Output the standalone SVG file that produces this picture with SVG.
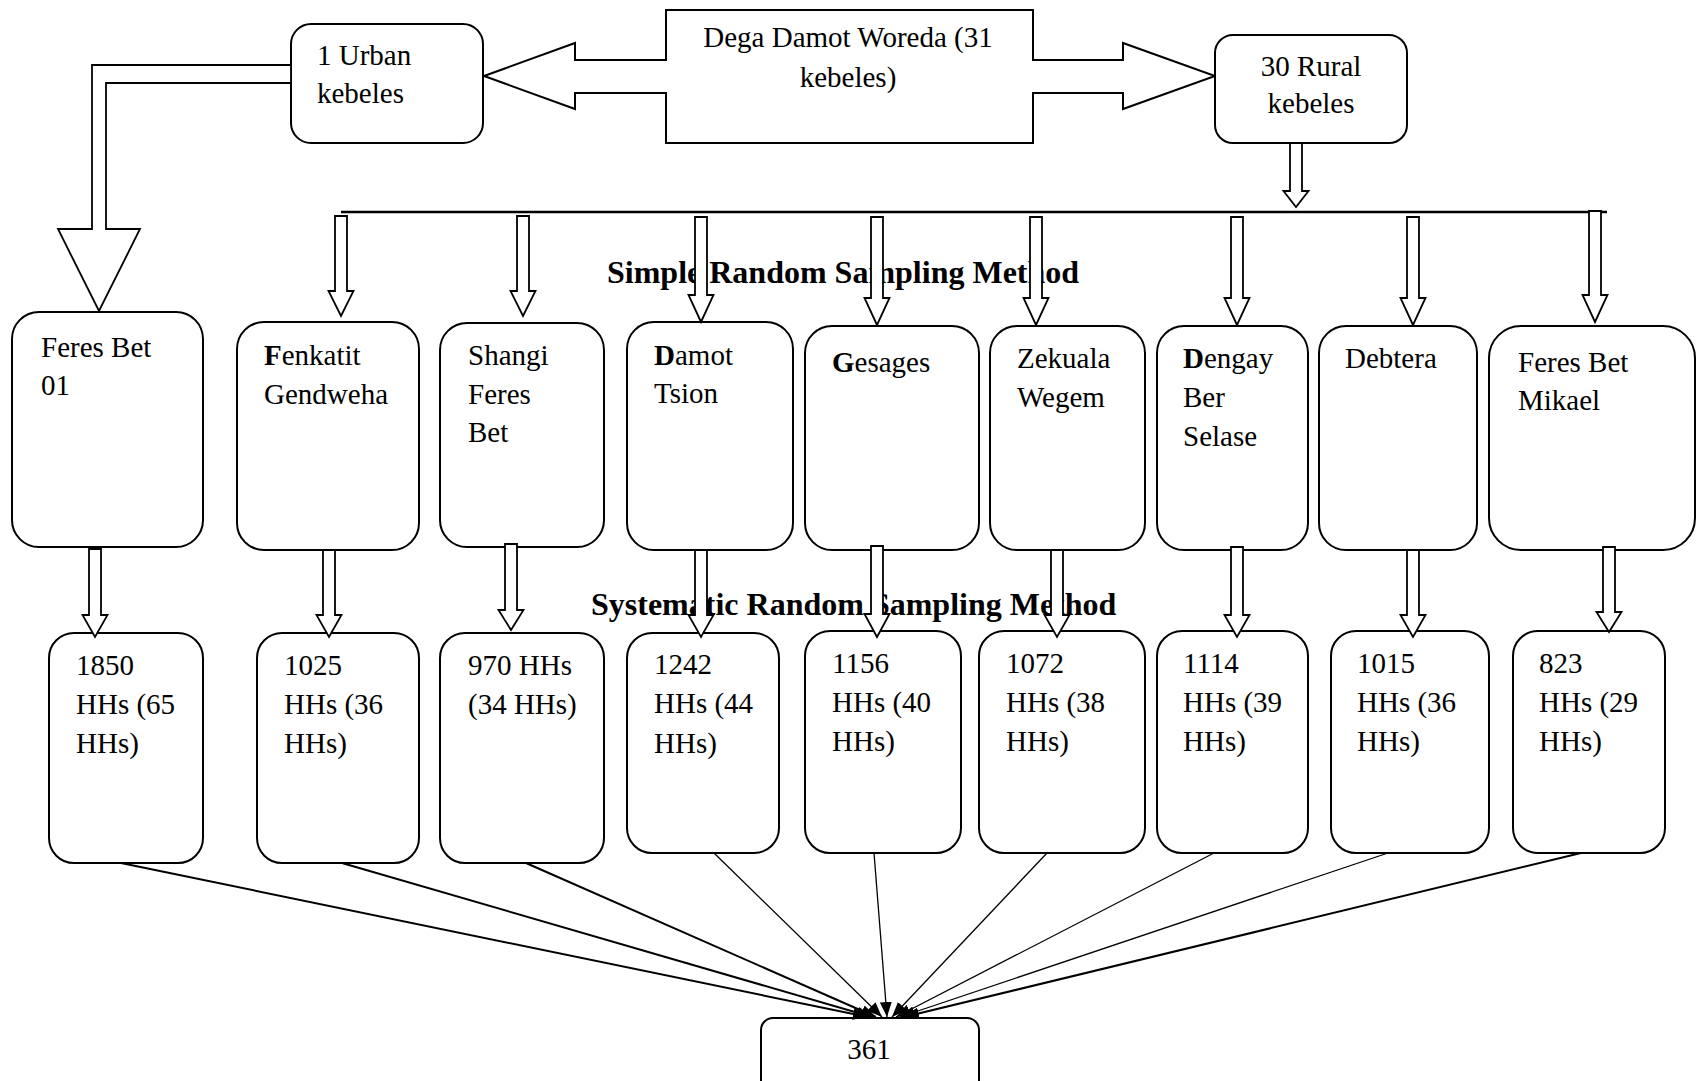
<svg xmlns="http://www.w3.org/2000/svg" width="1696" height="1081" viewBox="0 0 1696 1081">
<style>
.box{fill:#fff;stroke:#000;stroke-width:2}
.t{font-family:"Liberation Serif","Times New Roman",serif;font-size:29px;fill:#000}
.b{font-weight:bold}
.h{font-family:"Liberation Serif","Times New Roman",serif;font-size:32px;font-weight:bold;fill:#000}
.arr{fill:#fff;stroke:#000;stroke-width:1.8;stroke-linejoin:miter}
.ln{fill:none;stroke:#000}
.thick{stroke-width:2}
.thin{stroke-width:1.3}
</style>
<defs>
<marker id="ah" viewBox="0 0 15 12" refX="15" refY="6" markerWidth="15" markerHeight="12" markerUnits="userSpaceOnUse" orient="auto">
<path d="M0,0 L15,6 L0,12 Z" fill="#000"/>
</marker>
</defs>
<rect width="1696" height="1081" fill="#fff"/>

<!-- method labels (drawn beneath arrows) -->
<text class="h" x="607" y="283">Simple Random Sampling Method</text>
<text class="h" x="591" y="615">Systematic Random Sampling Method</text>

<g id="woreda">
<polygon class="box" points="484,76 575,43 575,60 666,60 666,10 1033,10 1033,60 1123,60 1123,43 1215,76 1123,109 1123,93 1033,93 1033,143 666,143 666,93 575,93 575,109"/>
<text class="t" x="848" y="47" text-anchor="middle">Dega Damot Woreda (31</text>
<text class="t" x="848" y="87" text-anchor="middle">kebeles)</text>
</g>

<g id="urban">
<rect class="box" x="291" y="24" width="192" height="119" rx="20"/>
<text class="t" x="317" y="65">1 Urban</text>
<text class="t" x="317" y="103">kebeles</text>
</g>

<g id="rural">
<rect class="box" x="1215" y="35" width="192" height="108" rx="18"/>
<text class="t" x="1311" y="76" text-anchor="middle">30 Rural</text>
<text class="t" x="1311" y="113" text-anchor="middle">kebeles</text>
</g>

<g id="k1">
<rect class="box" x="12" y="312" width="191" height="235" rx="27"/>
<text class="t" x="41" y="357">Feres Bet</text>
<text class="t" x="41" y="395">01</text>
</g>
<g id="k2">
<rect class="box" x="237" y="322" width="182" height="228" rx="27"/>
<text class="t" x="264" y="365"><tspan class="b">F</tspan>enkatit</text>
<text class="t" x="264" y="404">Gendweha</text>
</g>
<g id="k3">
<rect class="box" x="440" y="323" width="164" height="224" rx="27"/>
<text class="t" x="468" y="365">Shangi</text>
<text class="t" x="468" y="404">Feres</text>
<text class="t" x="468" y="442">Bet</text>
</g>
<g id="k4">
<rect class="box" x="627" y="322" width="166" height="228" rx="27"/>
<text class="t" x="654" y="365"><tspan class="b">D</tspan>amot</text>
<text class="t" x="654" y="403">Tsion</text>
</g>
<g id="k5">
<rect class="box" x="805" y="326" width="174" height="224" rx="27"/>
<text class="t" x="832" y="372"><tspan class="b">G</tspan>esages</text>
</g>
<g id="k6">
<rect class="box" x="990" y="326" width="155" height="224" rx="27"/>
<text class="t" x="1017" y="368">Zekuala</text>
<text class="t" x="1017" y="407">Wegem</text>
</g>
<g id="k7">
<rect class="box" x="1157" y="326" width="151" height="224" rx="27"/>
<text class="t" x="1183" y="368"><tspan class="b">D</tspan>engay</text>
<text class="t" x="1183" y="407">Ber</text>
<text class="t" x="1183" y="446">Selase</text>
</g>
<g id="k8">
<rect class="box" x="1319" y="326" width="158" height="224" rx="27"/>
<text class="t" x="1345" y="368">Debtera</text>
</g>
<g id="k9">
<rect class="box" x="1489" y="326" width="206" height="224" rx="32"/>
<text class="t" x="1518" y="372">Feres Bet</text>
<text class="t" x="1518" y="410">Mikael</text>
</g>

<g id="h1">
<rect class="box" x="49" y="633" width="154" height="230" rx="25"/>
<text class="t" x="76" y="675">1850</text>
<text class="t" x="76" y="714">HHs (65</text>
<text class="t" x="76" y="753">HHs)</text>
</g>
<g id="h2">
<rect class="box" x="257" y="633" width="162" height="230" rx="25"/>
<text class="t" x="284" y="675">1025</text>
<text class="t" x="284" y="714">HHs (36</text>
<text class="t" x="284" y="753">HHs)</text>
</g>
<g id="h3">
<rect class="box" x="440" y="633" width="164" height="230" rx="25"/>
<text class="t" x="468" y="675">970 HHs</text>
<text class="t" x="468" y="714">(34 HHs)</text>
</g>
<g id="h4">
<rect class="box" x="627" y="633" width="152" height="220" rx="25"/>
<text class="t" x="654" y="674">1242</text>
<text class="t" x="654" y="713">HHs (44</text>
<text class="t" x="654" y="753">HHs)</text>
</g>
<g id="h5">
<rect class="box" x="805" y="631" width="156" height="222" rx="25"/>
<text class="t" x="832" y="673">1156</text>
<text class="t" x="832" y="712">HHs (40</text>
<text class="t" x="832" y="751">HHs)</text>
</g>
<g id="h6">
<rect class="box" x="979" y="631" width="166" height="222" rx="25"/>
<text class="t" x="1006" y="673">1072</text>
<text class="t" x="1006" y="712">HHs (38</text>
<text class="t" x="1006" y="751">HHs)</text>
</g>
<g id="h7">
<rect class="box" x="1157" y="631" width="151" height="222" rx="25"/>
<text class="t" x="1183" y="673">1114</text>
<text class="t" x="1183" y="712">HHs (39</text>
<text class="t" x="1183" y="751">HHs)</text>
</g>
<g id="h8">
<rect class="box" x="1331" y="631" width="158" height="222" rx="25"/>
<text class="t" x="1357" y="673">1015</text>
<text class="t" x="1357" y="712">HHs (36</text>
<text class="t" x="1357" y="751">HHs)</text>
</g>
<g id="h9">
<rect class="box" x="1513" y="631" width="152" height="222" rx="25"/>
<text class="t" x="1539" y="673">823</text>
<text class="t" x="1539" y="712">HHs (29</text>
<text class="t" x="1539" y="751">HHs)</text>
</g>

<g id="total">
<rect class="box" x="761" y="1018" width="218" height="80" rx="12"/>
<text class="t" x="869" y="1059" text-anchor="middle">361</text>
</g>

<g id="connectors">
<polygon class="arr" points="291,65 92,65 92,229 58,229 99,311 140,229 106,229 106,83 291,83"/>
<path class="arr" d="M1290,143 L1302,143 L1302,191 L1308.5,191 L1296,207 L1283.5,191 L1290,191 Z"/>
<line class="ln" x1="341" y1="212" x2="1607" y2="212" stroke-width="2.5"/>
<path class="arr" d="M335,216 L347,216 L347,291 L353.5,291 L341,316 L328.5,291 L335,291 Z"/>
<path class="arr" d="M517,216 L529,216 L529,291 L535.5,291 L523,316 L510.5,291 L517,291 Z"/>
<path class="arr" d="M695,217 L707,217 L707,295 L713.5,295 L701,322 L688.5,295 L695,295 Z"/>
<path class="arr" d="M871,217 L883,217 L883,298 L889.5,298 L877,325 L864.5,298 L871,298 Z"/>
<path class="arr" d="M1030,217 L1042,217 L1042,298 L1048.5,298 L1036,325 L1023.5,298 L1030,298 Z"/>
<path class="arr" d="M1231,217 L1243,217 L1243,298 L1249.5,298 L1237,325 L1224.5,298 L1231,298 Z"/>
<path class="arr" d="M1407,217 L1419,217 L1419,298 L1425.5,298 L1413,325 L1400.5,298 L1407,298 Z"/>
<path class="arr" d="M1589,211 L1601,211 L1601,295 L1607.5,295 L1595,322 L1582.5,295 L1589,295 Z"/>

<path class="arr" d="M89,549 L101,549 L101,615 L107.5,615 L95,637 L82.5,615 L89,615 Z"/>
<path class="arr" d="M323,550 L335,550 L335,615 L341.5,615 L329,637 L316.5,615 L323,615 Z"/>
<path class="arr" d="M505,544 L517,544 L517,610 L523.5,610 L511,630 L498.5,610 L505,610 Z"/>
<path class="arr" d="M695,550 L707,550 L707,615 L713.5,615 L701,637 L688.5,615 L695,615 Z"/>
<path class="arr" d="M871,546 L883,546 L883,614 L889.5,614 L877,637 L864.5,614 L871,614 Z"/>
<path class="arr" d="M1051,550 L1063,550 L1063,615 L1069.5,615 L1057,637 L1044.5,615 L1051,615 Z"/>
<path class="arr" d="M1231,547 L1243,547 L1243,615 L1249.5,615 L1237,637 L1224.5,615 L1231,615 Z"/>
<path class="arr" d="M1407,550 L1419,550 L1419,615 L1425.5,615 L1413,637 L1400.5,615 L1407,615 Z"/>
<path class="arr" d="M1603,547 L1615,547 L1615,612 L1621.5,612 L1609,632 L1596.5,612 L1603,612 Z"/>

<line class="ln thick" x1="121" y1="863" x2="868" y2="1017" marker-end="url(#ah)"/>
<line class="ln thick" x1="342" y1="863" x2="872" y2="1017" marker-end="url(#ah)"/>
<line class="ln thick" x1="526" y1="863" x2="876" y2="1017" marker-end="url(#ah)"/>
<line class="ln thin" x1="714" y1="853" x2="882" y2="1017" marker-end="url(#ah)"/>
<line class="ln thin" x1="874" y1="853" x2="887" y2="1017" marker-end="url(#ah)"/>
<line class="ln thin" x1="1047" y1="853" x2="892" y2="1017" marker-end="url(#ah)"/>
<line class="ln thin" x1="1214" y1="853" x2="896" y2="1017" marker-end="url(#ah)"/>
<line class="ln thin" x1="1388" y1="853" x2="900" y2="1017" marker-end="url(#ah)"/>
<line class="ln thick" x1="1581" y1="853" x2="904" y2="1017" marker-end="url(#ah)"/>
</g>
</svg>
